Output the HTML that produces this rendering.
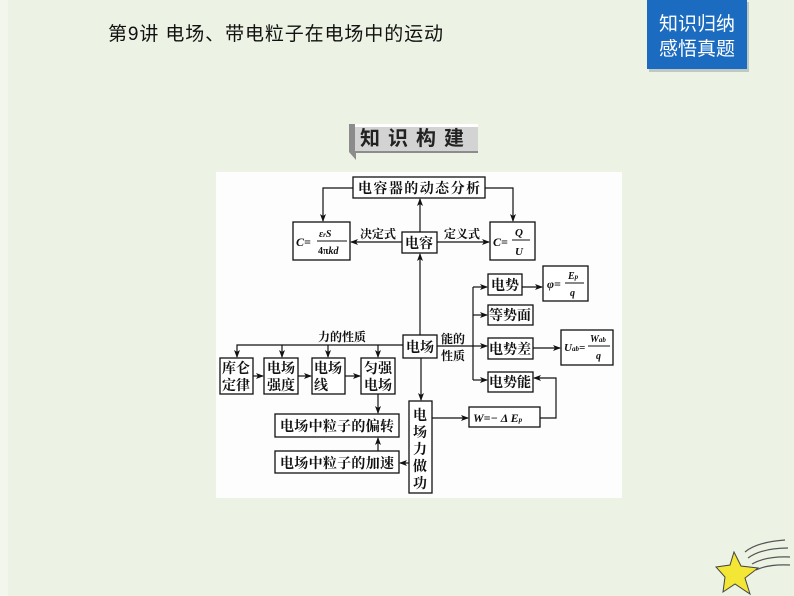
<!DOCTYPE html>
<html><head><meta charset="utf-8"><style>
html,body{margin:0;padding:0;background:#edf3e4;}
svg{display:block}
text{font-family:"Liberation Serif","Noto Serif CJK SC","Noto Sans CJK SC",serif;fill:#111}
.s{font-family:"Liberation Sans","Noto Sans CJK SC",sans-serif}
.d text{font-weight:bold}
</style></head><body>
<svg width="794" height="596" viewBox="0 0 794 596" xmlns="http://www.w3.org/2000/svg">
<defs>
<marker id="a" markerWidth="8" markerHeight="6" refX="7" refY="3" orient="auto" markerUnits="userSpaceOnUse">
<path d="M0,0 L8,3 L0,6 L2,3z" fill="#111"/></marker>
</defs>
<rect x="0" y="0" width="794" height="596" fill="#edf3e4"/>
<rect x="0" y="0" width="8" height="596" fill="#f2f6ec"/>
<text class="s" x="108" y="40" font-size="19" textLength="335" fill="#111">第9讲  电场、带电粒子在电场中的运动</text>
<rect x="649" y="2" width="100" height="70" fill="#6b7a8a" opacity="0.35"/>
<rect x="647" y="0" width="100" height="69" fill="#1b6cc0"/>
<text class="s" x="697" y="30" font-size="19" text-anchor="middle" style="fill:#fff">知识归纳</text>
<text class="s" x="697" y="55" font-size="19" text-anchor="middle" style="fill:#fff">感悟真题</text>
<path d="M349,124 L478,124 L478,153 L356,153 L356,160 L349,152z" fill="#8c8c8c"/>
<rect x="355" y="124" width="123" height="27" fill="#d3d3d3"/>
<rect x="355" y="124" width="123" height="3" fill="#fff"/>
<text class="s" x="416" y="145" font-size="20" font-weight="bold" text-anchor="middle" letter-spacing="8" style="fill:#222">知识构建</text>
<rect x="216" y="172" width="406" height="326" fill="#fdfdfd"/>
<g stroke="#111" stroke-width="1.3" fill="#fff">
<rect x="353" y="177" width="132" height="21"/>
<rect x="293" y="222" width="57" height="38"/>
<rect x="402" y="232" width="35" height="21"/>
<rect x="490" y="222" width="45" height="38"/>
<rect x="488" y="274" width="34" height="21"/>
<rect x="543" y="266" width="45" height="35"/>
<rect x="488" y="305" width="45" height="20"/>
<rect x="403" y="335" width="34" height="23"/>
<rect x="488" y="338" width="45" height="21"/>
<rect x="561" y="330" width="52" height="35"/>
<rect x="488" y="372" width="45" height="20"/>
<rect x="220" y="358" width="33" height="36"/>
<rect x="264" y="358" width="34" height="36"/>
<rect x="312" y="358" width="33" height="36"/>
<rect x="361" y="358" width="34" height="36"/>
<rect x="275" y="414" width="124" height="23"/>
<rect x="275" y="451" width="124" height="22"/>
<rect x="409" y="401" width="23" height="92"/>
<rect x="469" y="407" width="71" height="20"/>
</g>
<g stroke="#111" stroke-width="1.2" fill="none">
<path d="M353,188 H323 V221" marker-end="url(#a)"/>
<path d="M485,188 H513 V221" marker-end="url(#a)"/>
<path d="M420,232 V199" marker-end="url(#a)"/>
<path d="M420,335 V254" marker-end="url(#a)"/>
<path d="M402,242 H351" marker-end="url(#a)"/>
<path d="M437,242 H489" marker-end="url(#a)"/>
<path d="M473,346 H487" marker-end="url(#a)"/>
<path d="M437,346 H473"/>
<path d="M473,287 V380"/>
<path d="M473,287 H487" marker-end="url(#a)"/>
<path d="M473,315 H487" marker-end="url(#a)"/>
<path d="M473,380 H487" marker-end="url(#a)"/>
<path d="M522,287 H542" marker-end="url(#a)"/>
<path d="M533,348 H560" marker-end="url(#a)"/>
<path d="M403,345 H237 V357" marker-end="url(#a)"/>
<path d="M282,345 V357" marker-end="url(#a)"/>
<path d="M328,345 V357" marker-end="url(#a)"/>
<path d="M378,345 V357" marker-end="url(#a)"/>
<path d="M253,376 H263" marker-end="url(#a)"/>
<path d="M298,376 H311" marker-end="url(#a)"/>
<path d="M345,376 H360" marker-end="url(#a)"/>
<path d="M378,394 V413" marker-end="url(#a)"/>
<path d="M378,451 V438" marker-end="url(#a)"/>
<path d="M409,463 H400" marker-end="url(#a)"/>
<path d="M421,358 V400" marker-end="url(#a)"/>
<path d="M432,418 H468" marker-end="url(#a)"/>
<path d="M540,418 H556 V378 H534" marker-end="url(#a)"/>
</g>
<g class="d" font-size="14">
<text x="419" y="193" text-anchor="middle" textLength="122">电容器的动态分析</text>
<text x="419" y="248" text-anchor="middle">电容</text>
<text x="360" y="238" font-size="12">决定式</text>
<text x="444" y="238" font-size="12">定义式</text>
<text x="505" y="290" text-anchor="middle">电势</text>
<text x="510" y="320" text-anchor="middle">等势面</text>
<text x="420" y="352" text-anchor="middle">电场</text>
<text x="510" y="354" text-anchor="middle">电势差</text>
<text x="510" y="387" text-anchor="middle">电势能</text>
<text x="441" y="343" font-size="12">能的</text>
<text x="441" y="360" font-size="12">性质</text>
<text x="318" y="341" font-size="12">力的性质</text>
<text x="236" y="373" text-anchor="middle">库仑</text><text x="236" y="390" text-anchor="middle">定律</text>
<text x="281" y="373" text-anchor="middle">电场</text><text x="281" y="390" text-anchor="middle">强度</text>
<text x="314" y="373">电场</text><text x="314" y="390">线</text>
<text x="378" y="373" text-anchor="middle">匀强</text><text x="378" y="390" text-anchor="middle">电场</text>
<text x="337" y="431" text-anchor="middle" textLength="114">电场中粒子的偏转</text>
<text x="337" y="468" text-anchor="middle" textLength="114">电场中粒子的加速</text>
<text x="420" y="420" text-anchor="middle">电</text>
<text x="420" y="437" text-anchor="middle">场</text>
<text x="420" y="454" text-anchor="middle">力</text>
<text x="420" y="471" text-anchor="middle">做</text>
<text x="420" y="488" text-anchor="middle">功</text>
</g>
<g class="d" font-style="italic" font-size="12">
<text x="296" y="246">C=</text>
<text x="319" y="237" font-size="10">ε<tspan font-size="7">r</tspan>S</text>
<line x1="317" y1="241" x2="347" y2="241" stroke="#111"/>
<text x="318" y="254" font-size="10" font-style="normal">4π<tspan font-style="italic">kd</tspan></text>
<text x="493" y="246">C=</text>
<text x="515" y="236" font-size="11">Q</text>
<line x1="512" y1="240" x2="530" y2="240" stroke="#111"/>
<text x="515" y="255" font-size="11">U</text>
<text x="547" y="288">φ=</text>
<text x="568" y="279" font-size="10">E<tspan font-size="7">p</tspan></text>
<line x1="565" y1="283" x2="584" y2="283" stroke="#111"/>
<text x="570" y="296" font-size="10">q</text>
<text x="564" y="351" font-size="11">U<tspan font-size="7">ab</tspan>=</text>
<text x="590" y="342" font-size="10">W<tspan font-size="7">ab</tspan></text>
<line x1="588" y1="346" x2="610" y2="346" stroke="#111"/>
<text x="596" y="359" font-size="10">q</text>
<text x="473" y="422" font-size="12">W=− Δ E<tspan font-size="7">p</tspan></text>
</g>
<g stroke="#555" stroke-width="1.2" fill="none">
<path d="M745,552 q12,-10 40,-12"/>
<path d="M748,558 q14,-10 40,-10"/>
<path d="M752,564 q14,-8 38,-7"/>
<path d="M756,570 q12,-6 34,-5"/>
</g>
<path d="M734,552 L741,566 L758,568 L745,578 L750,594 L735,584 L723,592 L725,577 L716,567 L730,565z" fill="#f3e634" stroke="#444" stroke-width="1"/>
</svg>
</body></html>
